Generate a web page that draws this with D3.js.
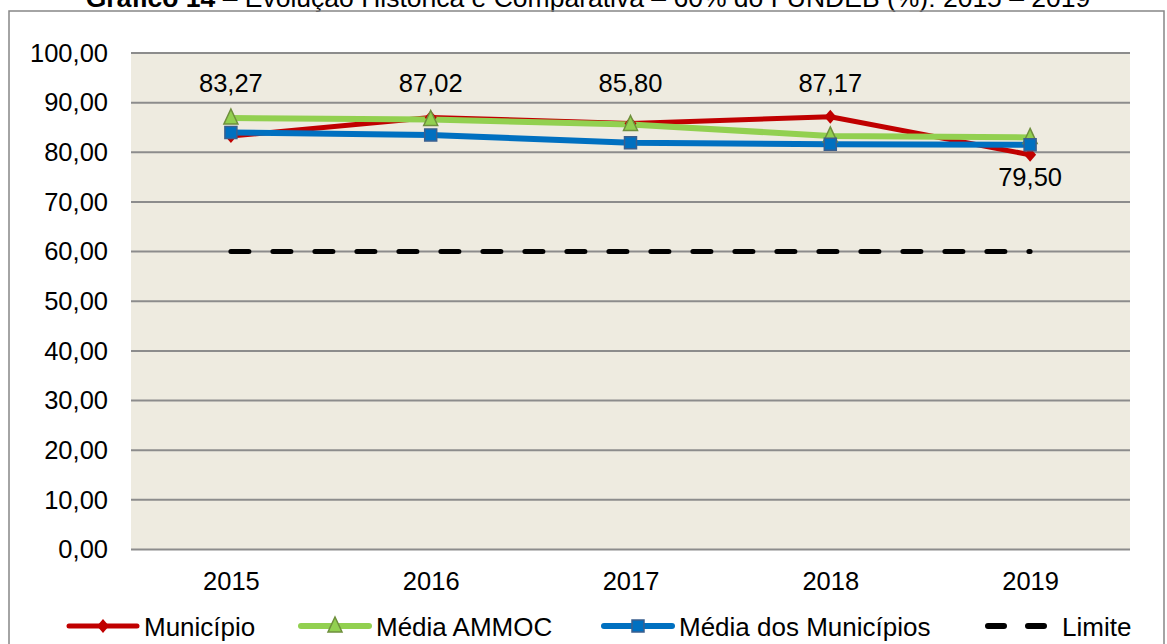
<!DOCTYPE html>
<html>
<head>
<meta charset="utf-8">
<script src="https://cdn.jsdelivr.net/npm/d3@7"></script>
<style>
  body { margin: 0; background: #fff; }
  svg { display: block; font-family: "Liberation Sans", Arial, sans-serif; }
</style>
</head>
<body>
<div id="chart"></div>
<script>
// data
const years = ["2015", "2016", "2017", "2018", "2019"];
const municipio = [83.27, 87.02, 85.80, 87.17, 79.50];
const mediaAmmoc = [86.9, 86.6, 85.6, 83.3, 83.0];
const mediaMunicipios = [84.0, 83.5, 81.9, 81.6, 81.5];
const limite = [60, 60, 60, 60, 60];
const yTicks = [0, 10, 20, 30, 40, 50, 60, 70, 80, 90, 100];

const width = 1167, height = 644;
const plot = { left: 131, right: 1130, top: 53, bottom: 549.5 };
const fontFamily = "Liberation Sans, Arial, sans-serif";

const svg = d3.select("#chart").append("svg")
  .attr("width", width).attr("height", height);

// title (cut off at the top in the original)
svg.append("text")
  .attr("x", 588).attr("y", 7)
  .attr("text-anchor", "middle")
  .attr("font-size", 26.5)
  .attr("fill", "#000")
  .call(t => {
    t.append("tspan").attr("font-weight", "bold").text("Gráfico 14");
    t.append("tspan").text(" – Evolução Histórica e Comparativa – 60% do FUNDEB (%): 2015 – 2019");
  });

// outer frame
svg.append("rect")
  .attr("x", 9).attr("y", 11).attr("width", 1155).attr("height", 645)
  .attr("fill", "none").attr("stroke", "#868686").attr("stroke-width", 1.5);

const x = d3.scalePoint().domain(years).range([plot.left, plot.right]).padding(0.5);
const y = d3.scaleLinear().domain([0, 100]).range([plot.bottom, plot.top]);

// plot background
svg.append("rect")
  .attr("x", plot.left).attr("y", plot.top)
  .attr("width", plot.right - plot.left).attr("height", plot.bottom - plot.top)
  .attr("fill", "#EEEBE0");

// gridlines
svg.append("g")
  .selectAll("line")
  .data(yTicks)
  .join("line")
  .attr("x1", plot.left).attr("x2", plot.right)
  .attr("y1", d => y(d)).attr("y2", d => y(d))
  .attr("stroke", "#8C8C8C").attr("stroke-width", 2);

// y axis labels
const fmt = d => d3.format(".2f")(d).replace(".", ",");
svg.append("g")
  .attr("transform", `translate(${plot.left - 23},0)`)
  .call(d3.axisLeft(y).tickValues(yTicks).tickFormat(fmt).tickSize(0).tickPadding(0))
  .call(g => g.select(".domain").remove())
  .call(g => g.selectAll("text").attr("font-size", 25.5).attr("fill", "#000")
    .attr("font-family", fontFamily));

// x axis labels
svg.append("g")
  .attr("transform", `translate(0,${plot.bottom})`)
  .call(d3.axisBottom(x).tickSize(0).tickPadding(22))
  .call(g => g.select(".domain").remove())
  .call(g => g.selectAll("text").attr("font-size", 25.5).attr("fill", "#000")
    .attr("font-family", fontFamily));

const line = d3.line().x((d, i) => x(years[i])).y(d => y(d));

// Limite dashed line
svg.append("path")
  .datum(limite)
  .attr("d", line)
  .attr("fill", "none")
  .attr("stroke", "#000").attr("stroke-width", 5)
  .attr("stroke-linecap", "round")
  .attr("stroke-dasharray", "18,24");

// Município
svg.append("path")
  .datum(municipio)
  .attr("d", line)
  .attr("fill", "none").attr("stroke", "#C00000").attr("stroke-width", 5)
  .attr("stroke-linejoin", "round");

// Média AMMOC
svg.append("path")
  .datum(mediaAmmoc)
  .attr("d", line)
  .attr("fill", "none").attr("stroke", "#92D050").attr("stroke-width", 6)
  .attr("stroke-linejoin", "round");

// Média dos Municípios
svg.append("path")
  .datum(mediaMunicipios)
  .attr("d", line)
  .attr("fill", "none").attr("stroke", "#0070C0").attr("stroke-width", 6)
  .attr("stroke-linejoin", "round");

const diamond = "M0,-7L6,0L0,7L-6,0Z";
const triangle = "M0,-9L7,6L-7,6Z";
const square = "M-6,-6H6V6H-6Z";

svg.append("g").selectAll("path")
  .data(municipio)
  .join("path")
  .attr("transform", (d, i) => `translate(${x(years[i])},${y(d)})`)
  .attr("d", diamond).attr("fill", "#C00000");

svg.append("g").selectAll("path")
  .data(mediaAmmoc)
  .join("path")
  .attr("transform", (d, i) => `translate(${x(years[i])},${y(d)})`)
  .attr("d", triangle).attr("fill", "#92D050")
  .attr("stroke", "#6E8F3C").attr("stroke-width", 1.5);

svg.append("g").selectAll("path")
  .data(mediaMunicipios)
  .join("path")
  .attr("transform", (d, i) => `translate(${x(years[i])},${y(d)})`)
  .attr("d", square).attr("fill", "#0070C0")
  .attr("stroke", "#3A5F8E").attr("stroke-width", 1.5);

// data labels for Município
svg.append("g").selectAll("text")
  .data(municipio)
  .join("text")
  .attr("x", (d, i) => x(years[i]))
  .attr("y", (d, i) => i === 4 ? y(d) + 31 : 92)
  .attr("text-anchor", "middle")
  .attr("font-size", 25.5).attr("fill", "#000")
  .text(d => fmt(d));

// legend
const legendItems = [
  { name: "Município", color: "#C00000", w: 5, marker: diamond, x: 67 },
  { name: "Média AMMOC", color: "#92D050", w: 6, marker: triangle, x: 299, stroke: "#6E8F3C" },
  { name: "Média dos Municípios", color: "#0070C0", w: 6, marker: square, x: 602, stroke: "#3A5F8E" },
  { name: "Limite", color: "#000", w: 6, marker: null, x: 985, dash: true }
];
const ly = 626;
const legend = svg.append("g").selectAll("g")
  .data(legendItems)
  .join("g")
  .attr("transform", d => `translate(${d.x},${ly})`);

legend.append("line")
  .attr("x1", d => d.dash ? 3 : 2).attr("x2", d => d.dash ? 63 : 70)
  .attr("stroke", d => d.color).attr("stroke-width", d => d.w)
  .attr("stroke-linecap", "round")
  .attr("stroke-dasharray", d => d.dash ? "16,24" : null);

legend.filter(d => d.marker)
  .append("path")
  .attr("transform", "translate(36,0)")
  .attr("d", d => d.marker)
  .attr("fill", d => d.color)
  .attr("stroke", d => d.stroke || "none").attr("stroke-width", 1.5);

legend.append("text")
  .attr("x", d => d.dash ? 77 : 77).attr("y", 10)
  .attr("font-size", 26).attr("fill", "#000")
  .text(d => d.name);
</script>
</body>
</html>
